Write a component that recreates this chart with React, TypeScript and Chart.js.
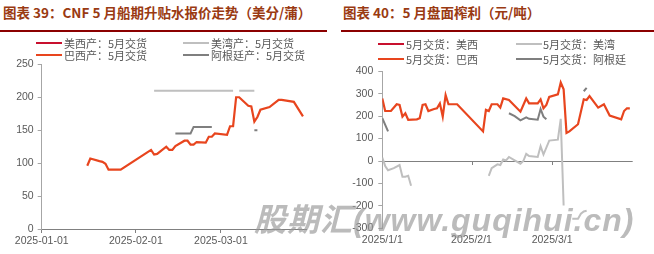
import React, { useEffect, useRef } from 'react';
import { Chart, registerables } from 'chart.js';

Chart.register(...registerables);

// ---------- shared axis ticks (days since 2025-01-01) ----------
const monthTickDays = [0, 31, 59];
const leftTickLabels = ['2025-01-01', '2025-02-01', '2025-03-01'];
const rightTickLabels = ['2025/1/1', '2025/2/1', '2025/3/1'];

// ---------- Chart 39: CNF premium (美分/蒲) ----------
const cnfUsWestDays: number[] = [];
const cnfUsWestVals: (number | null)[] = [];
const cnfGulfDays = [37, 63, 64, 65, 70];
const cnfGulfVals = [210, 210, null, 210, 210];
const cnfBrazilDays = [15, 16, 19, 20, 21, 22, 26, 35, 36, 37, 38, 41, 42, 43, 44, 47, 48, 49, 50, 51, 54, 55, 56, 57, 61, 62, 63, 64, 65, 68, 69, 70, 71, 72, 75, 78, 79, 83, 86];
const cnfBrazilVals = [96, 107, 103, 102, 99, 90, 90, 117, 120, 113, 114, 125, 120, 120, 126, 134, 134, 128, 128, 132, 131, 140, 140, 145, 143, 156, 156, 200, 200, 187, 186, 163, 170, 181, 185, 196, 196, 193, 171];
const cnfArgDays = [44, 49, 50, 56, 57, 70, 71];
const cnfArgVals = [145, 145, 155, 155, null, 150, 150];

// ---------- Chart 40: crush margin (元/吨) ----------
const mUsWestDays: number[] = [];
const mUsWestVals: (number | null)[] = [];
const mGulfDays = [0, 1, 2, 4, 6, 7, 8, 9, 10, 11, 37, 38, 40, 41, 42, 43, 44, 46, 48, 49, 50, 51, 54, 55, 56, 58, 61, 62, 63, 64, 66, 68, 69, 70, 71];
const mGulfVals = [15, -22, -41, -32, -18, -70, -70, -66, -110, null, -66, -32, -15, -18, 7, 3, 18, 3, -12, 0, 32, 22, 18, 66, 29, 91, 95, 188, -198, null, -257, -257, -235, -225, -222];
const mBrazilDays = [0, 1, 3, 5, 6, 7, 8, 9, 12, 13, 14, 15, 16, 18, 19, 20, 21, 22, 23, 26, 35, 36, 37, 38, 40, 41, 42, 44, 48, 50, 51, 54, 55, 56, 57, 58, 61, 62, 63, 64, 65, 68, 70, 71, 72, 75, 77, 79, 83, 84, 85, 86];
const mBrazilVals = [279, 223, 223, 253, 250, 198, 213, 184, 186, 191, 250, 253, 223, 232, 235, 257, 198, 294, 253, 253, 132, 228, 223, 253, 253, 238, 279, 272, 220, 279, 257, 257, 275, 235, 250, 286, 297, 350, 320, 125, 132, 164, 275, 272, 289, 238, 253, 203, 186, 223, 235, 235];
const mArgDays = [0, 2, 3, 44, 46, 48, 50, 51, 54, 55, 56, 57, 58, 70, 71];
const mArgVals = [191, 132, null, 213, 200, 181, 195, 188, 184, 232, 198, 186, null, 311, 326];

const C_USWEST = '#C8102E';
const C_GULF = '#BFBFBF';
const C_BRAZIL = '#E8451E';
const C_ARG = '#7F7F7F';

const leftLegend = ['美西产：5月交货', '美湾产：5月交货', '巴西产：5月交货', '阿根廷产：5月交货'];
const rightLegend = ['5月交货：美西', '5月交货：美湾', '5月交货：巴西', '5月交货：阿根廷'];

const pts = (days: number[], vals: (number | null)[]) => days.map((d, i) => ({ x: d, y: vals[i] }));

const tickFont = { family: '"Liberation Sans", Arial, sans-serif', size: 10.5 };
const tickColor = '#595959';

function makeDatasets(sets: { d: number[]; v: (number | null)[] }[], labels: string[]) {
  const colors = [C_USWEST, C_GULF, C_BRAZIL, C_ARG];
  const widths = [2, 2, 2.2, 2];
  return sets.map((s, i) => ({
    label: labels[i],
    data: pts(s.d, s.v),
    borderColor: colors[i],
    backgroundColor: colors[i],
    borderWidth: widths[i],
    pointRadius: 0,
    tension: 0,
    spanGaps: false,
    order: 3 - i,
  }));
}

const zeroTicksPlugin = {
  id: 'zeroTicks',
  beforeDatasetsDraw(chart: any) {
    const { ctx, scales } = chart;
    const y0 = scales.y.getPixelForValue(0);
    ctx.save();
    ctx.strokeStyle = '#808080';
    ctx.lineWidth = 1;
    monthTickDays.slice(1).forEach((d) => {
      const x = Math.round(scales.x.getPixelForValue(d)) + 0.5;
      ctx.beginPath();
      ctx.moveTo(x, y0);
      ctx.lineTo(x, y0 + 4);
      ctx.stroke();
    });
    ctx.restore();
  },
};

function LeftChart() {
  const ref = useRef<HTMLCanvasElement>(null);
  useEffect(() => {
    const chart = new Chart(ref.current!, {
      type: 'line',
      data: {
        datasets: makeDatasets(
          [
            { d: cnfUsWestDays, v: cnfUsWestVals },
            { d: cnfGulfDays, v: cnfGulfVals },
            { d: cnfBrazilDays, v: cnfBrazilVals },
            { d: cnfArgDays, v: cnfArgVals },
          ],
          leftLegend
        ) as any,
      },
      options: {
        animation: false,
        responsive: false,
        devicePixelRatio: 1,
        layout: { padding: { top: 8, right: 24, left: 0, bottom: 0 } },
        plugins: { legend: { display: false }, tooltip: { enabled: false } },
        scales: {
          x: {
            type: 'linear',
            min: 0,
            max: 87,
            afterBuildTicks: (s: any) => {
              s.ticks = monthTickDays.map((v) => ({ value: v }));
            },
            afterFit: (s: any) => {
              s.height = 25;
            },
            ticks: {
              autoSkip: false,
              maxRotation: 0,
              padding: 2,
              color: tickColor,
              font: tickFont,
              callback: (v: any) => leftTickLabels[monthTickDays.indexOf(Number(v))],
            },
            grid: { drawOnChartArea: false, drawTicks: true, tickLength: 4, tickColor: '#808080' },
            border: { display: true, color: '#808080', width: 1 },
          },
          y: {
            type: 'linear',
            min: 0,
            max: 250,
            ticks: { stepSize: 50, padding: 4, color: tickColor, font: tickFont },
            afterFit: (s: any) => {
              s.width = 41.7;
            },
            grid: { drawOnChartArea: false, drawTicks: true, tickLength: 4, tickColor: '#a6a6a6' },
            border: { display: true, color: '#a6a6a6', width: 1 },
          },
        },
      },
    });
    return () => chart.destroy();
  }, []);
  return (
    <canvas
      ref={ref}
      width={330}
      height={200}
      style={{ position: 'absolute', left: 0, top: 54, width: 330, height: 200 }}
    />
  );
}

function RightChart() {
  const ref = useRef<HTMLCanvasElement>(null);
  useEffect(() => {
    const chart = new Chart(ref.current!, {
      type: 'line',
      data: {
        datasets: makeDatasets(
          [
            { d: mUsWestDays, v: mUsWestVals },
            { d: mGulfDays, v: mGulfVals },
            { d: mBrazilDays, v: mBrazilVals },
            { d: mArgDays, v: mArgVals },
          ],
          rightLegend
        ) as any,
      },
      plugins: [zeroTicksPlugin],
      options: {
        animation: false,
        responsive: false,
        devicePixelRatio: 1,
        layout: { padding: { top: 10, right: 21.3, left: 0, bottom: 0 } },
        plugins: { legend: { display: false }, tooltip: { enabled: false } },
        scales: {
          x: {
            type: 'linear',
            min: 0,
            max: 87,
            afterBuildTicks: (s: any) => {
              s.ticks = monthTickDays.map((v) => ({ value: v }));
            },
            afterFit: (s: any) => {
              s.height = 25.7;
            },
            ticks: {
              autoSkip: false,
              maxRotation: 0,
              padding: 6,
              color: tickColor,
              font: tickFont,
              callback: (v: any) => rightTickLabels[monthTickDays.indexOf(Number(v))],
            },
            grid: { display: false, drawOnChartArea: false, drawTicks: false },
            border: { display: false },
          },
          y: {
            type: 'linear',
            min: -300,
            max: 400,
            ticks: { stepSize: 100, padding: 5, color: tickColor, font: tickFont },
            afterFit: (s: any) => {
              s.width = 52.3;
            },
            grid: {
              drawOnChartArea: true,
              drawTicks: true,
              tickLength: 4,
              tickColor: '#a6a6a6',
              color: (c: any) => (c.tick && c.tick.value === 0 ? '#808080' : 'rgba(0,0,0,0)'),
            },
            border: { display: true, color: '#a6a6a6', width: 1 },
          },
        },
      },
    });
    return () => chart.destroy();
  }, []);
  return (
    <canvas
      ref={ref}
      width={324}
      height={194}
      style={{ position: 'absolute', left: 330, top: 60, width: 324, height: 194 }}
    />
  );
}

const legendColors = [C_USWEST, C_GULF, C_BRAZIL, C_ARG];

function Legend({ labels, lineX, textX, rowY, lineW }: { labels: string[]; lineX: number[]; textX: number[]; rowY: number[]; lineW: number }) {
  return (
    <>
      {labels.map((l, i) => {
        const col = i % 2;
        const row = Math.floor(i / 2);
        return (
          <React.Fragment key={l}>
            <div
              style={{
                position: 'absolute',
                left: lineX[col],
                top: rowY[row] - 1,
                width: lineW,
                height: 2,
                background: legendColors[i],
              }}
            />
            <div
              style={{
                position: 'absolute',
                left: textX[col],
                top: rowY[row] - 8,
                height: 16,
                lineHeight: '16px',
                fontSize: 11,
                color: '#595959',
                whiteSpace: 'nowrap',
                fontFamily: '"Noto Sans CJK SC", sans-serif',
              }}
            >
              {l}
            </div>
          </React.Fragment>
        );
      })}
    </>
  );
}

const titleStyle: React.CSSProperties = {
  position: 'absolute',
  top: 2,
  fontSize: 13.5,
  fontWeight: 700,
  color: '#9A3A12',
  whiteSpace: 'nowrap',
  lineHeight: '20px',
  fontFamily: '"Noto Sans CJK SC", sans-serif',
};

export default function App() {
  return (
    <div style={{ position: 'absolute', left: 0, top: 0, width: 654, height: 254, background: '#fff', overflow: 'hidden' }}>
      <div style={{ ...titleStyle, left: 3 }}>图表 39：CNF 5 月船期升贴水报价走势（美分/蒲）</div>
      <div style={{ ...titleStyle, left: 343 }}>图表 40：5 月盘面榨利（元/吨）</div>
      <div style={{ position: 'absolute', left: 0, top: 30, width: 327, height: 2, background: '#8B0000' }} />
      <div style={{ position: 'absolute', left: 341, top: 30, width: 313, height: 2, background: '#8B0000' }} />
      <LeftChart />
      <RightChart />
      <Legend labels={leftLegend} lineX={[36, 183]} textX={[64, 211]} rowY={[42.5, 55]} lineW={26} />
      <Legend labels={rightLegend} lineX={[378, 516]} textX={[406, 543]} rowY={[44, 59]} lineW={26} />
      <div
        style={{
          position: 'absolute',
          left: 254,
          top: 200,
          fontSize: 32,
          fontWeight: 700,
          fontStyle: 'italic',
          letterSpacing: 1,
          color: 'rgba(150,150,150,0.65)',
          whiteSpace: 'nowrap',
          lineHeight: '40px',
          fontFamily: '"Liberation Sans", "Noto Sans CJK SC", sans-serif',
          pointerEvents: 'none',
        }}
      >
        股期汇(www.guqihui.cn)
      </div>
    </div>
  );
}
